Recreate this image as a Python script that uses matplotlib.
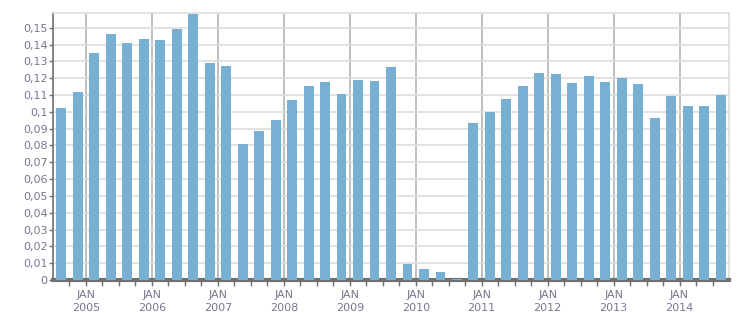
import numpy as np
import matplotlib.pyplot as plt
from matplotlib.ticker import FuncFormatter, MultipleLocator

# quarterly values, Q3 2004 .. Q3 2014
start_year = 2004
start_quarter = 3
values = [0.1021, 0.1117, 0.1349, 0.1463, 0.1410, 0.1433, 0.1427, 0.1493,
          0.1582, 0.1290, 0.1272, 0.0807, 0.0884, 0.0950, 0.1069, 0.1153,
          0.1177, 0.1105, 0.1189, 0.1183, 0.1266, 0.0097, 0.0063, 0.0049,
          0.0004, 0.0932, 0.0998, 0.1075, 0.1153, 0.1230, 0.1224, 0.1171,
          0.1213, 0.1177, 0.1201, 0.1165, 0.0962, 0.1093, 0.1033, 0.1033,
          0.1099]
years = [2005, 2006, 2007, 2008, 2009, 2010, 2011, 2012, 2013, 2014]
year_labels = ['JAN\n%d' % y for y in years]

n = len(values)
x = start_year + (start_quarter - 1) / 4 + np.arange(n) / 4 + 0.125

text_col = '#77778f'
fig = plt.figure(figsize=(7.51, 3.13), dpi=100)
ax = fig.add_axes([53 / 751, 1 - 280 / 313, (729 - 53) / 751, (280 - 13) / 313])

ax.bar(x, values, width=0.15, color='#78b0d3', zorder=3)

ax.set_xlim(2004.5, 2014.75)
ax.set_ylim(0, 0.1588)

ax.yaxis.set_major_locator(MultipleLocator(0.01))
ax.yaxis.set_major_formatter(FuncFormatter(
    lambda v, p: ('%.2f' % v).rstrip('0').rstrip('.').replace('.', ',')))
ax.set_xticks(years)
ax.set_xticklabels(year_labels)
ax.set_xticks(np.arange(2004.75, 2014.75, 0.25), minor=True)

ax.grid(axis='y', color='#dddddd', linewidth=1.2, zorder=0)
ax.grid(axis='x', which='major', color='#b4b4b4', linewidth=1.2, zorder=1)

for s in ['top', 'right']:
    ax.spines[s].set_color('#dddddd')
    ax.spines[s].set_linewidth(1.2)
ax.spines['left'].set_color('#707070')
ax.spines['left'].set_linewidth(1.2)
ax.spines['bottom'].set_color('#707070')
ax.spines['bottom'].set_linewidth(3)

ax.tick_params(axis='y', length=3, width=1, color='#707070',
               labelsize=8, labelcolor=text_col, pad=1)
ax.tick_params(axis='x', which='both', length=4, width=1, color='#707070',
               labelsize=8, labelcolor=text_col, pad=3)
for lbl in ax.get_xticklabels():
    lbl.set_linespacing(1.4)

plt.savefig('out.png', dpi=100)
